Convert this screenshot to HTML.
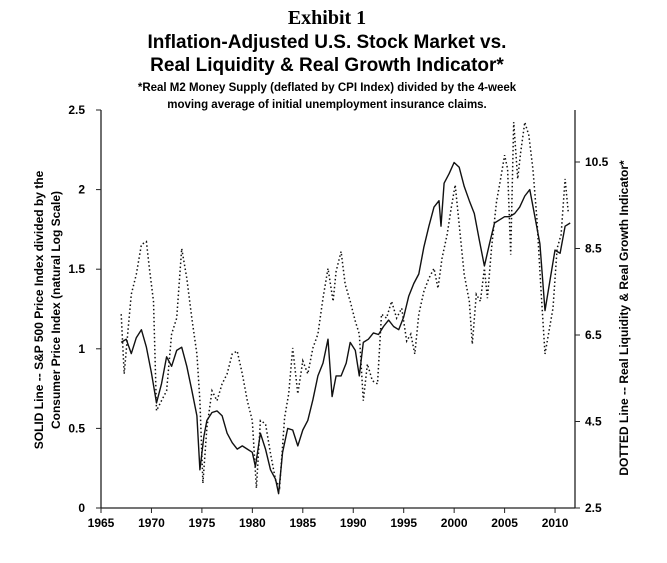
<!DOCTYPE html>
<html><head><meta charset="utf-8"><style>
body{margin:0;background:#fff;}
svg{display:block;font-family:"Liberation Sans",Arial,sans-serif;}
</style></head><body>
<svg id="c" width="667" height="563" viewBox="0 0 667 563">
<text x="327" y="24" text-anchor="middle" font-family="Liberation Serif,serif" font-weight="bold" font-size="20">Exhibit 1</text>
<text x="327" y="48" text-anchor="middle" font-weight="bold" font-size="19">Inflation-Adjusted U.S. Stock Market vs.</text>
<text x="327" y="71" text-anchor="middle" font-weight="bold" font-size="19">Real Liquidity &amp; Real Growth Indicator*</text>
<text x="327" y="91" text-anchor="middle" font-weight="bold" font-size="11.5">*Real M2 Money Supply (deflated by CPI Index) divided by the 4-week</text>
<text x="327" y="108" text-anchor="middle" font-weight="bold" font-size="11.5">moving average of initial unemployment insurance claims.</text>
<text transform="translate(43,310) rotate(-90)" text-anchor="middle" font-weight="bold" font-size="12">SOLID Line -- S&amp;P 500 Price Index divided by the</text>
<text transform="translate(60,310) rotate(-90)" text-anchor="middle" font-weight="bold" font-size="12">Consumer Price Index (natural Log Scale)</text>
<text transform="translate(628,318) rotate(-90)" text-anchor="middle" font-weight="bold" font-size="12">DOTTED Line -- Real Liquidity &amp; Real Growth Indicator*</text>
<g id="axes"></g>
<g id="marks"></g>
</svg>
<script>
const xTicks=[1965,1970,1975,1980,1985,1990,1995,2000,2005,2010];
const leftTicks=[0,0.5,1,1.5,2,2.5];
const rightTicks=[2.5,4.5,6.5,8.5,10.5];
const solidYears=[1967,1967.5,1968,1968.5,1969,1969.5,1970,1970.5,1971,1971.5,1972,1972.5,1973,1973.5,1974,1974.5,1974.8,1975.2,1975.5,1976,1976.5,1977,1977.5,1978,1978.5,1979,1979.5,1980,1980.3,1980.8,1981.3,1981.8,1982.3,1982.6,1983,1983.5,1984,1984.5,1985,1985.5,1986,1986.5,1987,1987.5,1987.9,1988.3,1988.8,1989.3,1989.7,1990.2,1990.6,1991,1991.5,1992,1992.5,1993,1993.5,1994,1994.5,1995,1995.5,1996,1996.5,1997,1997.5,1998,1998.5,1998.7,1999,1999.5,2000,2000.5,2001,2001.5,2002,2002.5,2003,2003.5,2004,2004.5,2005,2005.5,2006,2006.5,2007,2007.5,2008,2008.5,2009,2009.5,2010,2010.5,2011,2011.5];
const solidValues=[1.04,1.06,0.97,1.07,1.12,1.01,0.85,0.66,0.78,0.95,0.89,0.99,1.01,0.89,0.74,0.58,0.24,0.45,0.55,0.6,0.61,0.58,0.47,0.41,0.37,0.39,0.37,0.35,0.26,0.47,0.37,0.24,0.18,0.09,0.35,0.5,0.49,0.39,0.49,0.55,0.68,0.83,0.91,1.06,0.70,0.83,0.83,0.91,1.04,0.99,0.83,1.04,1.06,1.10,1.09,1.14,1.18,1.14,1.12,1.20,1.33,1.41,1.47,1.64,1.77,1.89,1.93,1.77,2.04,2.10,2.17,2.14,2.02,1.93,1.85,1.68,1.52,1.66,1.79,1.81,1.83,1.83,1.85,1.89,1.96,2.00,1.83,1.66,1.24,1.43,1.62,1.60,1.77,1.79];
const dotYears=[1967,1967.3,1967.7,1968,1968.5,1969,1969.5,1969.8,1970.2,1970.5,1971,1971.5,1972,1972.5,1973,1973.5,1974,1974.5,1974.8,1975.1,1975.5,1976,1976.5,1977,1977.5,1978,1978.5,1979,1979.5,1980,1980.4,1980.8,1981.3,1981.8,1982.3,1982.7,1983.2,1983.6,1984,1984.5,1985,1985.5,1986,1986.5,1987,1987.5,1988,1988.3,1988.8,1989.2,1989.7,1990.2,1990.6,1991,1991.4,1991.9,1992.4,1992.8,1993.3,1993.8,1994.3,1994.8,1995.3,1995.7,1996.1,1996.5,1997,1997.5,1998,1998.4,1998.8,1999.3,1999.7,2000.1,2000.6,2001,2001.5,2001.8,2002.2,2002.6,2003,2003.3,2003.7,2004.2,2004.6,2005,2005.3,2005.6,2005.9,2006.3,2006.6,2007,2007.4,2007.8,2008.2,2008.6,2009,2009.4,2009.8,2010.2,2010.6,2011,2011.3];
const dotValues=[6.98,5.60,6.66,7.44,7.90,8.59,8.66,8.04,7.28,4.75,4.98,5.21,6.52,6.89,8.50,7.81,6.89,6.06,4.98,3.07,4.36,5.21,4.98,5.37,5.60,6.06,6.13,5.60,4.98,4.52,2.96,4.52,4.45,3.76,3.14,2.98,4.59,5.14,6.20,5.14,5.90,5.60,6.20,6.52,7.35,8.04,7.28,7.97,8.43,7.67,7.28,6.82,6.52,4.98,5.83,5.44,5.37,6.98,6.89,7.28,6.89,7.12,6.36,6.52,6.06,6.98,7.51,7.81,8.04,7.58,8.27,8.82,9.42,9.97,8.82,7.90,7.28,6.29,7.44,7.28,8.04,7.35,8.50,9.58,10.11,10.66,10.34,8.36,11.42,10.11,10.73,11.42,11.12,10.34,9.19,7.58,6.06,6.59,7.12,8.50,8.82,10.11,9.35];

const X0=101,X1=575,Y0=508,YT=110;
const xs=y=>X0+(y-1965)*10.09;
const yl=v=>Y0-v*159.2;
const yr=v=>Y0-(v-2.5)*43.25;
const NS='http://www.w3.org/2000/svg';
const ax=document.getElementById('axes'),mk=document.getElementById('marks');
function mkEl(t,a,p){const e=document.createElementNS(NS,t);for(const k in a)e.setAttribute(k,a[k]);p.appendChild(e);return e;}
let e;
e=mkEl('line',{x1:X0,y1:YT,x2:X0,y2:Y0,stroke:'#222','stroke-width':1.3},ax);


e=mkEl('line',{x1:X1,y1:YT,x2:X1,y2:Y0,stroke:'#222','stroke-width':1.3},ax);


e=mkEl('line',{x1:X0,y1:Y0,x2:X1,y2:Y0,stroke:'#222','stroke-width':1.3},ax);


xTicks.forEach(t=>{
 const x=xs(t);
 e=mkEl('line',{x1:x,y1:Y0,x2:x,y2:Y0+5,stroke:'#222'},ax);
 
 
 e=mkEl('text',{x:x,y:Y0+19,'text-anchor':'middle','font-size':12,'font-weight':'bold'},ax);
 e.textContent=t;
 
 
});
leftTicks.forEach(t=>{
 const y=yl(t);
 e=mkEl('line',{x1:X0-5,y1:y,x2:X0,y2:y,stroke:'#222'},ax);
 
 
 e=mkEl('text',{x:X0-16,y:y+4,'text-anchor':'end','font-size':12,'font-weight':'bold'},ax);
 e.textContent=t;
 
 
});
rightTicks.forEach(t=>{
 const y=yr(t);
 e=mkEl('line',{x1:X1,y1:y,x2:X1+5,y2:y,stroke:'#222'},ax);
 
 
 e=mkEl('text',{x:X1+10,y:y+4,'font-size':12,'font-weight':'bold'},ax);
 e.textContent=t.toFixed(1);
 
 
});
const dPts=dotYears.map((y,i)=>xs(y).toFixed(1)+','+yr(dotValues[i]).toFixed(1)).join(' ');
e=mkEl('polyline',{points:dPts,fill:'none',stroke:'#111','stroke-width':1.5,'stroke-dasharray':'1.5 2.5'},mk);


const sPts=solidYears.map((y,i)=>xs(y).toFixed(1)+','+yl(solidValues[i]).toFixed(1)).join(' ');
e=mkEl('polyline',{points:sPts,fill:'none',stroke:'#111','stroke-width':1.4,'stroke-linejoin':'round'},mk);


</script>
</body></html>
